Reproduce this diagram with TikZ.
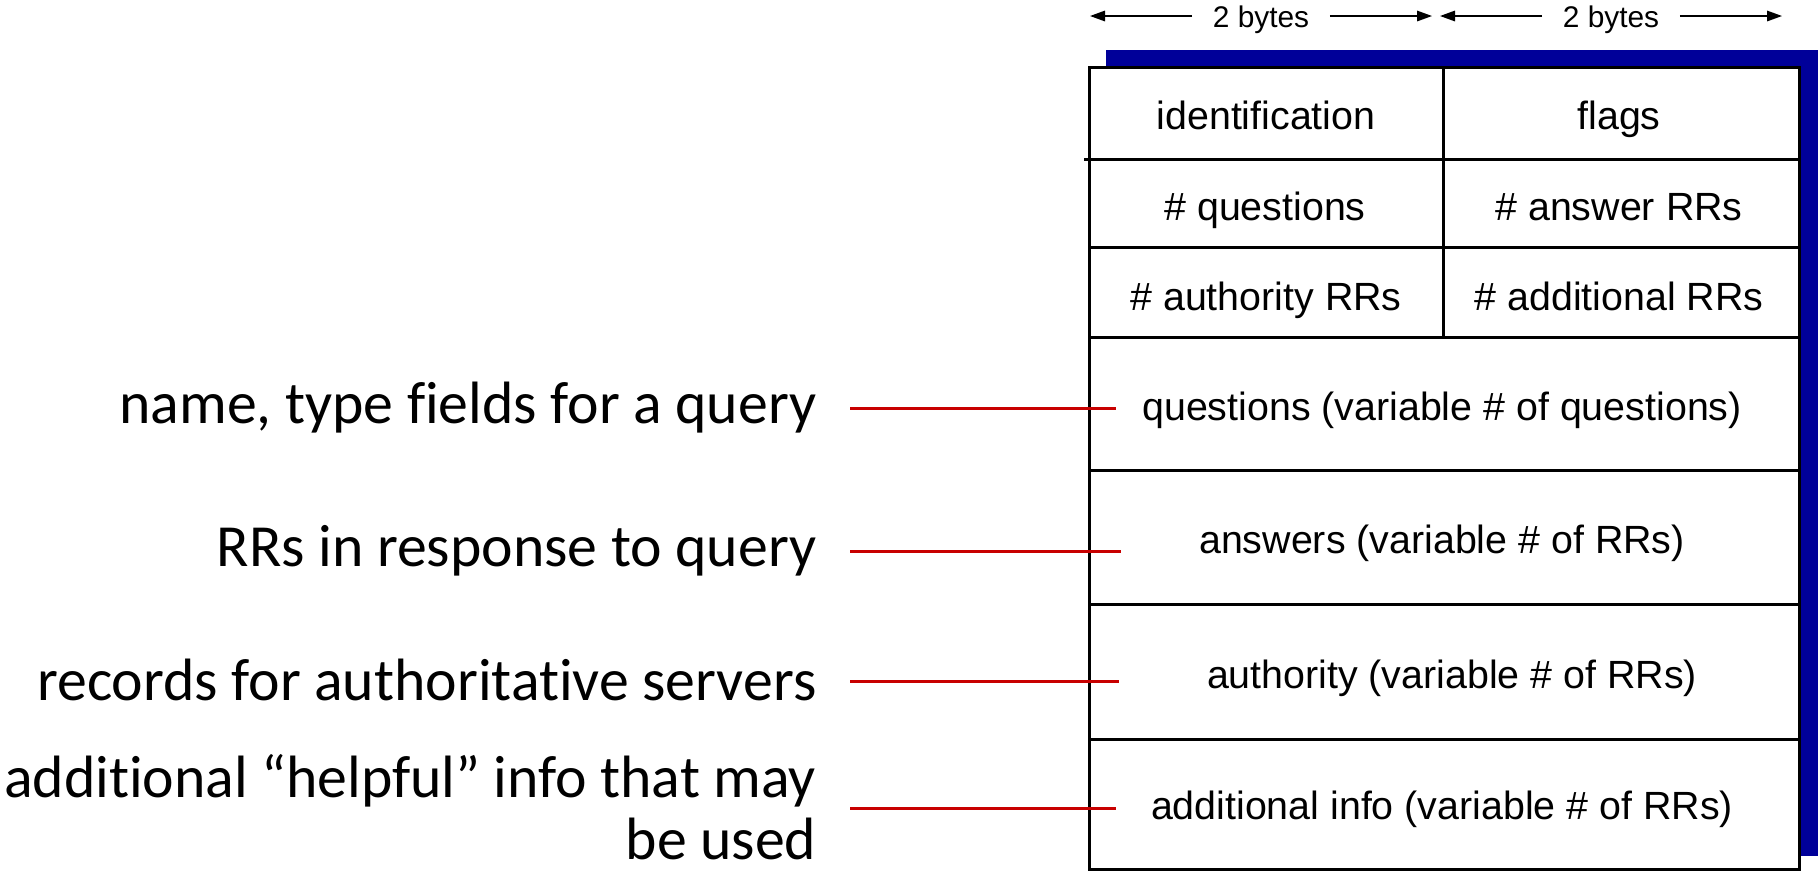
\documentclass[tikz,border=0pt]{standalone}
\usepackage{fontspec}
\setmainfont{Liberation Sans}
\newfontfamily\calfont[RawFeature=-liga]{Carlito}
\usepackage{tikz}
\usetikzlibrary{arrows.meta}
\definecolor{shadowblue}{RGB}{0,0,153}
\definecolor{linkred}{RGB}{200,0,0}

\begin{document}
\begin{tikzpicture}[x=0.1mm, y=-0.1mm,
  fld/.style={font=\fontsize{11.2}{13.4}\selectfont, inner sep=0pt, anchor=base},
  lbl/.style={font=\calfont\fontsize{17}{17.6}\selectfont, inner sep=0pt, align=right, anchor=east},
  bytes/.style={font=\fontsize{8.5}{10}\selectfont, inner sep=2mm, anchor=base},
  dim/.style={-{Triangle[length=1.5mm,width=1.05mm]}, line width=0.45pt},
  conn/.style={draw=linkred, line width=0.85pt, shorten <=3.3mm},
  frame/.style={line width=0.85pt}]
  \useasboundingbox (0,0) rectangle (1818,879);
  % shadow and frame
  \fill[shadowblue] (1106,50) rectangle (1818,856);
  \draw[frame, fill=white] (1089,67) rectangle (1799,869);
  \draw[frame] (1084,159) -- (1799,159)
               (1089,247) -- (1799,247)
               (1089,337) -- (1799,337)
               (1089,470) -- (1799,470)
               (1089,604) -- (1799,604)
               (1089,739) -- (1799,739)
               (1443,67) -- (1443,337);
  % header fields
  \node[fld] (ident) at (1266,129) {identification};
  \node[fld] (flags) at (1619,129) {flags};
  \node[fld] (nques) at (1265,220) {\# questions};
  \node[fld] (nans) at (1619,220) {\# answer RRs};
  \node[fld] (nauth) at (1266,310) {\# authority RRs};
  \node[fld] (naddl) at (1619,310) {\# additional RRs};
  \node[fld] (ques) at (1442,420) {questions (variable \# of questions)};
  \node[fld] (ans) at (1442,553) {answers (variable \# of RRs)};
  \node[fld] (auth) at (1452,688) {authority (variable \# of RRs)};
  \node[fld] (addl) at (1442,819) {additional info (variable \# of RRs)};
  % byte widths
  \node[bytes] (lbytes) at (1261,27) {2 bytes};
  \node[bytes] (rbytes) at (1611,27) {2 bytes};
  \coordinate (lleft) at (1090,16);
  \coordinate (lright) at (1432,16);
  \coordinate (rleft) at (1440,16);
  \coordinate (rright) at (1782,16);
  \draw[dim] (lbytes.west |- lleft) -- (lleft);
  \draw[dim] (lbytes.east |- lright) -- (lright);
  \draw[dim] (rbytes.west |- rleft) -- (rleft);
  \draw[dim] (rbytes.east |- rright) -- (rright);
  % descriptions
  \node[lbl] (queslbl) at (817,408) {name, type fields for a query};
  \node[lbl] (anslbl) at (817,551) {RRs in response to query};
  \node[lbl] (authlbl) at (817,680) {records for authoritative servers};
  \node[lbl] (addllbl) at (817,807) {additional “helpful” info that may\\be used};
  \coordinate (quesend) at (1116,408);
  \coordinate (ansend) at (1121,551);
  \coordinate (authend) at (1119,681);
  \coordinate (addlend) at (1116,808);
  \draw[conn] (queslbl.east |- quesend) -- (quesend);
  \draw[conn] (anslbl.east |- ansend) -- (ansend);
  \draw[conn] (authlbl.east |- authend) -- (authend);
  \draw[conn] (addllbl.east |- addlend) -- (addlend);
\end{tikzpicture}
\end{document}
